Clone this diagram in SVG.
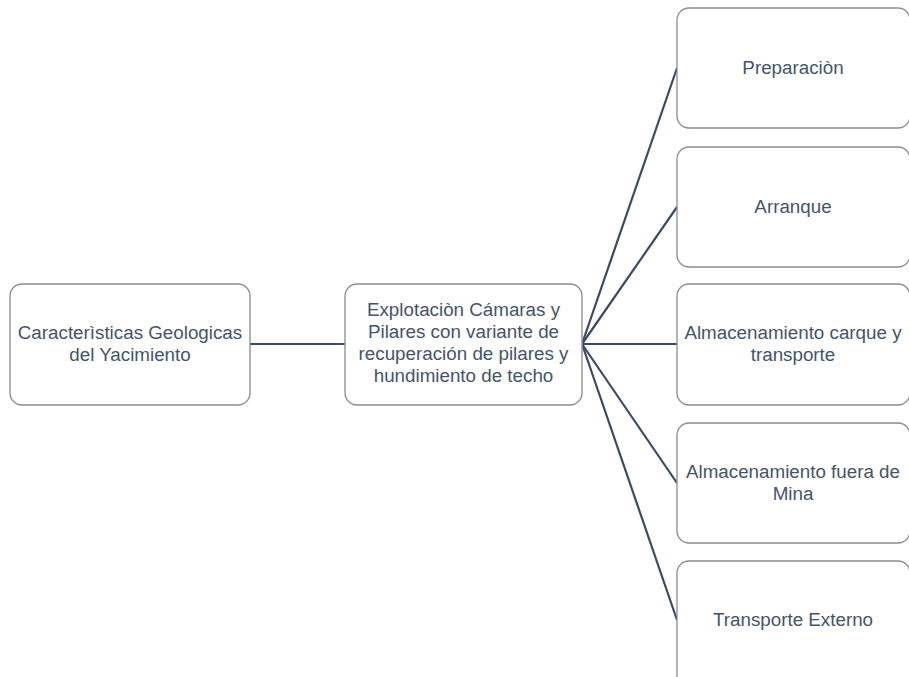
<svg xmlns="http://www.w3.org/2000/svg" width="909" height="677" viewBox="0 0 909 677">
<style>
.box{fill:#ffffff;stroke:#8c8c8c;stroke-width:1.3}
.lbl{font-family:"Liberation Sans",Arial,sans-serif;font-size:18.8px;fill:#44546a;text-anchor:middle}
.con{stroke:#3a4a63;stroke-width:2.2;fill:none}
</style>
<rect width="909" height="677" fill="#ffffff"/>
<g id="connectors">
<line class="con" x1="250" y1="344" x2="345" y2="344"/>
<line class="con" x1="582" y1="344" x2="677" y2="68"/>
<line class="con" x1="582" y1="344" x2="677" y2="207"/>
<line class="con" x1="582" y1="344" x2="677" y2="344"/>
<line class="con" x1="582" y1="344" x2="677" y2="483"/>
<line class="con" x1="582" y1="344" x2="677" y2="620"/>
</g>
<g id="n1">
<rect class="box" x="10" y="284" width="240" height="121" rx="12"/>
<text class="lbl" x="130" y="339">Caracterìsticas Geologicas</text>
<text class="lbl" x="130" y="361">del Yacimiento</text>
</g>
<g id="n2">
<rect class="box" x="345" y="284" width="237" height="121" rx="12"/>
<text class="lbl" x="463.5" y="316">Explotaciòn Cámaras y</text>
<text class="lbl" x="463.5" y="338">Pilares con variante de</text>
<text class="lbl" x="463.5" y="360">recuperación de pilares y</text>
<text class="lbl" x="463.5" y="382">hundimiento de techo</text>
</g>
<g id="n3">
<rect class="box" x="677" y="8" width="233" height="120" rx="12"/>
<text class="lbl" x="793" y="74">Preparaciòn</text>
</g>
<g id="n4">
<rect class="box" x="677" y="147" width="233" height="120" rx="12"/>
<text class="lbl" x="793" y="213">Arranque</text>
</g>
<g id="n5">
<rect class="box" x="677" y="284" width="233" height="121" rx="12"/>
<text class="lbl" x="793" y="339">Almacenamiento carque y</text>
<text class="lbl" x="793" y="361">transporte</text>
</g>
<g id="n6">
<rect class="box" x="677" y="423" width="233" height="120" rx="12"/>
<text class="lbl" x="793" y="478">Almacenamiento fuera de</text>
<text class="lbl" x="793" y="500">Mina</text>
</g>
<g id="n7">
<rect class="box" x="677" y="561" width="233" height="130" rx="12"/>
<text class="lbl" x="793" y="626">Transporte Externo</text>
</g>
</svg>
